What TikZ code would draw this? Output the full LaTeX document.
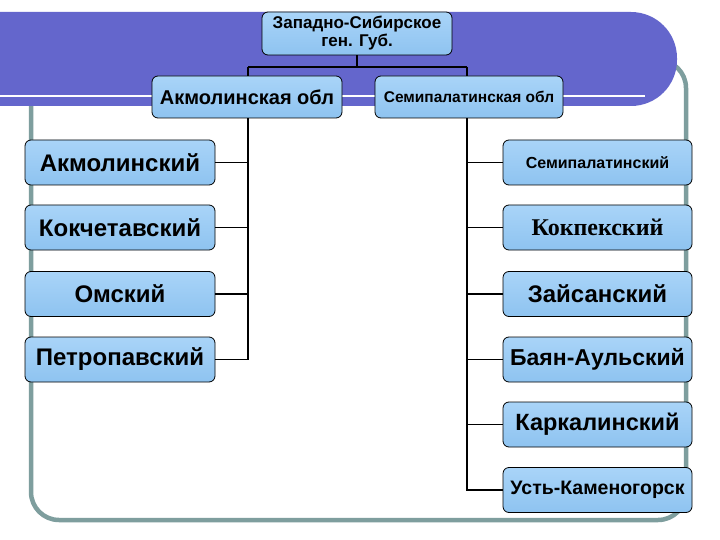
\documentclass[tikz,border=0pt]{standalone}
\usepackage{fontspec}
\setmainfont{Liberation Sans}
\newfontfamily\serifb{Liberation Serif}
\begin{document}
\begin{tikzpicture}[x=1pt,y=-1pt,
  bx/.style={draw=black,line width=0.8pt,rounded corners=6pt,top color=boxtop,bottom color=boxbot,inner sep=0pt,font=\bfseries},
  ln/.style={line width=1.3pt,black}]
\definecolor{banner}{HTML}{6466CC}
\definecolor{frame}{HTML}{7E9E9E}
\definecolor{boxtop}{HTML}{A9D4F8}
\definecolor{boxbot}{HTML}{8EC3F0}
\useasboundingbox (0,0) rectangle (720,540);
\fill[white] (0,0) rectangle (720,540);
\draw[frame,line width=4.5pt,rounded corners=28pt] (31,60) rectangle (686,520);
\fill[banner,rounded corners=46pt] (-60,12) rectangle (677,106);
\draw[white,line width=2pt] (0,96) -- (645,96);
\node[bx,minimum width=190,minimum height=43,align=center,font=\bfseries\fontsize{17}{18}\selectfont] (top) at (357,33.5) {Западно-Сибирское\\ген. Губ.};
\node[bx,minimum width=190,minimum height=42,font=\bfseries\fontsize{20}{22}\selectfont] (ak) at (247,97) {Акмолинская обл};
\node[bx,minimum width=188,minimum height=42,font=\bfseries\fontsize{15.5}{17}\selectfont] (se) at (469,97) {Семипалатинская обл};
\coordinate (tj) at (357,67);
\coordinate (la) at (248,67);
\coordinate (ra) at (467,67);
\draw[ln] (top.south) -- (tj) (la) -- (ra) (la) -- (la|-ak.north) (ra) -- (ra|-se.north);
\foreach \n/\y/\t in {l1/162.5/Акмолинский, l2/227.5/Кокчетавский, l3/294/Омский, l4/359.5/Петропавский}
  \node[bx,minimum width=190,minimum height=45,font=\bfseries\fontsize{24}{26}\selectfont] (\n) at (120,\y) {\t};
\node[bx,minimum width=189,minimum height=45,font=\bfseries\fontsize{16}{18}\selectfont] (r1) at (597.5,162.5) {Семипалатинский};
\node[bx,minimum width=189,minimum height=45,font=\serifb\bfseries\fontsize{24}{26}\selectfont] (r2) at (597.5,227.5) {Кокпекский};
\node[bx,minimum width=189,minimum height=45,font=\bfseries\fontsize{24}{26}\selectfont] (r3) at (597.5,294) {Зайсанский};
\node[bx,minimum width=189,minimum height=45,font=\bfseries\fontsize{23}{25}\selectfont] (r4) at (597.5,359.5) {Баян-Аульский};
\node[bx,minimum width=189,minimum height=45,font=\bfseries\fontsize{23.5}{25}\selectfont] (r5) at (597.5,424.5) {Каркалинский};
\node[bx,minimum width=189,minimum height=45,font=\bfseries\fontsize{19.5}{21}\selectfont] (r6) at (597.5,490) {Усть-Каменогорск};
\draw[ln] (ak.south -| la) -- (la |- l4.east) -- (l4.east);
\foreach \n in {l1,l2,l3} \draw[ln] (\n.east) -- (la |- \n.east);
\draw[ln] (se.south -| ra) -- (ra |- r6.west) -- (r6.west);
\foreach \n in {r1,r2,r3,r4,r5} \draw[ln] (\n.west) -- (ra |- \n.west);
\end{tikzpicture}
\end{document}
